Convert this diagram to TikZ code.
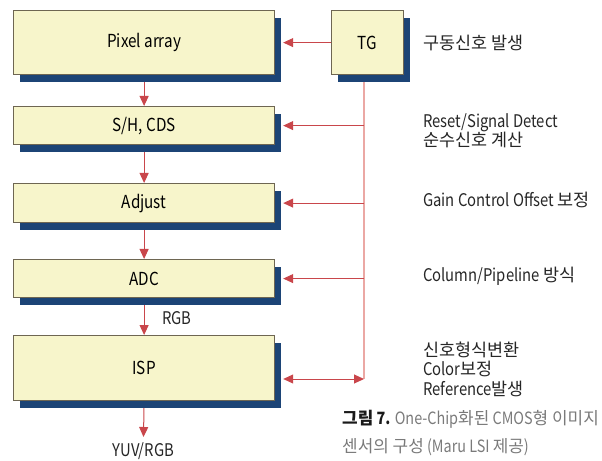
\documentclass[tikz,border=0pt]{standalone}
\usepackage{fontspec}
\setmainfont{Noto Sans CJK KR}[FakeStretch=0.85]
\newfontfamily\kr{Noto Sans CJK KR}
\usetikzlibrary{arrows.meta,backgrounds,shadows}

\definecolor{boxfill}{HTML}{F7F5CB}
\definecolor{boxline}{HTML}{6E6652}
\definecolor{shade}{HTML}{1C4476}
\definecolor{arrowred}{HTML}{C9464B}
\definecolor{buspink}{HTML}{EBA8A4}
\definecolor{capgray}{HTML}{7A7A7A}

\tikzset{
  block/.style={draw=boxline, fill=boxfill, line width=1.2bp, anchor=north west,
    inner sep=0pt, font=\fontsize{18}{20}\selectfont,
    general shadow={fill=shade, shadow xshift=6bp, shadow yshift=-7bp}},
  flow/.style={draw=arrowred, line width=1bp,
    -{Triangle[length=10bp,width=9bp]}},
  twoway/.style={draw=arrowred, line width=1bp,
    {Triangle[length=10bp,width=9bp]}-{Triangle[length=10bp,width=9bp]}},
  bus/.style={draw=buspink, line width=1.2bp},
  note/.style={anchor=west, inner sep=0pt, align=left,
    font=\fontsize{17.5}{19.5}\selectfont, text=black!85},
}

\begin{document}
\begin{tikzpicture}[x=1bp, y=-1bp]
  \useasboundingbox (0,0) rectangle (602,461);

  % processing chain
  \node[block, minimum width=261bp, minimum height=64bp] (pix) at (13,10) {Pixel array};
  \node[block, minimum width=261bp, minimum height=38bp] (sh) at (13,106) {S/H, CDS};
  \node[block, minimum width=261bp, minimum height=39bp] (adj) at (13,183) {Adjust};
  \node[block, minimum width=261bp, minimum height=38bp] (adc) at (13,259) {ADC};
  \node[block, minimum width=261bp, minimum height=65bp] (isp) at (13,335) {ISP};
  \node[block, minimum width=72bp, minimum height=64bp] (tg) at (331,10) {TG};

  % timing bus
  \coordinate (bt) at (364,74);
  \coordinate (bb) at (364,379);
  \coordinate (out) at (143.5,437);

  \begin{scope}[on background layer]
    \draw[flow] (pix.south) -- (sh.north);
    \draw[flow] (sh.south) -- (adj.north);
    \draw[flow] (adj.south) -- (adc.north);
    \draw[flow] (adc.south) -- (isp.north);
    \draw[flow] (isp.south) -- (out);
    \draw[flow] (tg.west) -- ([xshift=8bp]pix.east);
    \draw[bus] (bt) -- (bb);
    \draw[flow] (bt |- sh.east) -- ([xshift=8bp]sh.east);
    \draw[flow] (bt |- adj.east) -- ([xshift=8bp]adj.east);
    \draw[flow] (bt |- adc.east) -- ([xshift=8bp]adc.east);
    \draw[twoway] ([xshift=8bp]isp.east |- bb) -- (bb);
  \end{scope}

  \node[note, anchor=center] (rgb) at (177,318) {RGB};
  \node[note, anchor=north] (yuv) at ([yshift=-5bp]out) {YUV/RGB};

  % descriptions (Hangul set without the condensed stretch)
  \node[note] (d1) at (423,43) {\kr 구동신호 발생};
  \node[note] (d2) at (423,130.5) {Reset/Signal Detect\\{\kr 순수신호 계산}};
  \node[note] (d3) at (423,200) {Gain Control Offset {\kr 보정}};
  \node[note] (d4) at (423,276) {Column/Pipeline {\kr 방식}};
  \node[note] (d5) at (423,369) {{\kr 신호형식변환}\\Color{\kr 보정}\\Reference{\kr 발생}};

  % caption
  \node[note, font=\fontsize{17}{28}\selectfont, text=capgray] (cap) at (342,433)
    {{\bfseries\color{black!90}{\kr 그림} 7.} One-Chip{\kr 화된} CMOS{\kr 형 이미지}\\{\kr 센서의 구성} (Maru LSI {\kr 제공})};
\end{tikzpicture}
\end{document}
